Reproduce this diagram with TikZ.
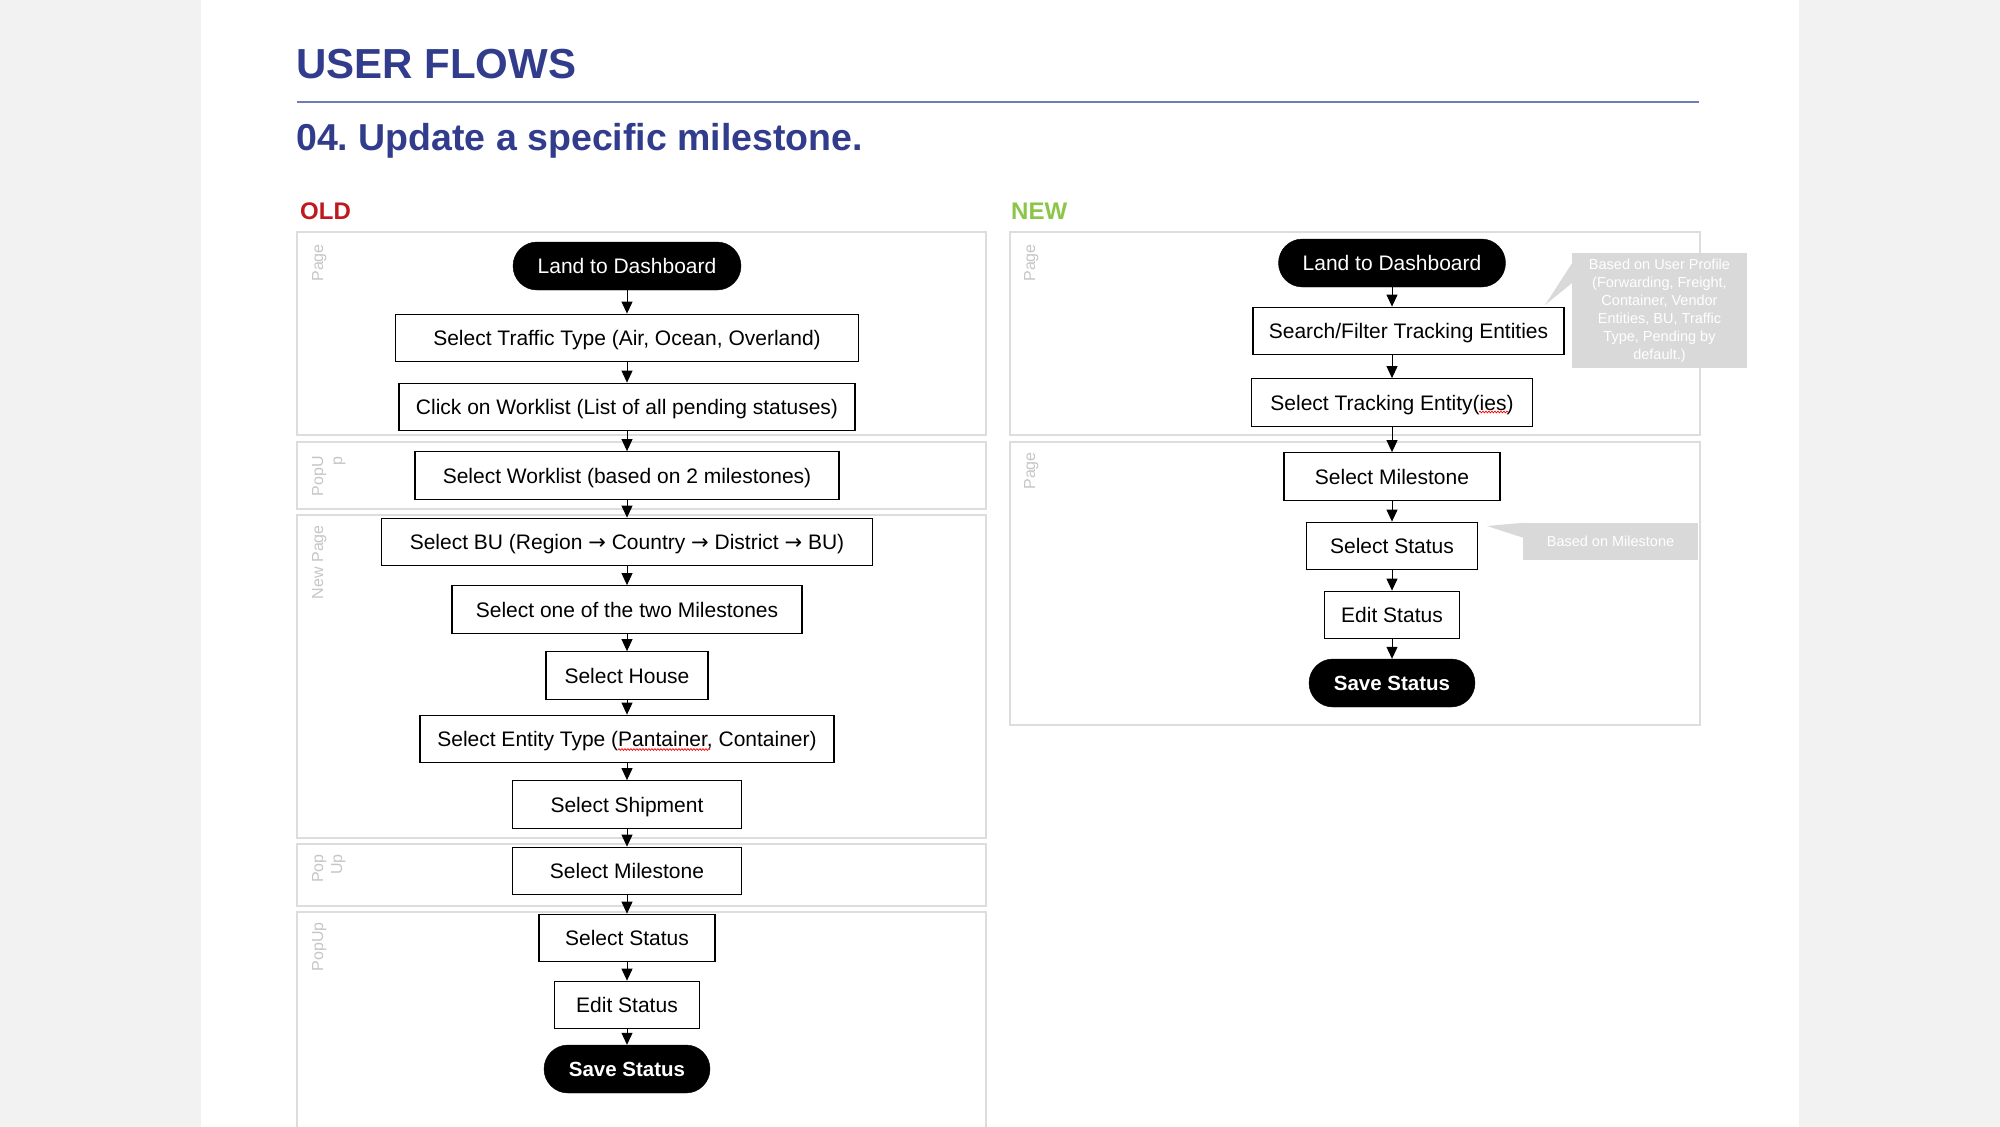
\documentclass[tikz,border=0pt]{standalone}
\usepackage{fontspec}
\setmainfont{Liberation Sans}
\newfontfamily\arrowfont{DejaVu Sans}
\usetikzlibrary{arrows.meta,decorations.pathmorphing,calc}
\definecolor{bgc}{HTML}{F2F2F2}
\definecolor{titleblue}{RGB}{50,60,140}
\definecolor{rulec}{RGB}{112,124,184}
\definecolor{oldred}{RGB}{190,25,30}
\definecolor{newgreen}{RGB}{140,198,72}
\definecolor{lanec}{HTML}{DDDDDD}
\definecolor{lblc}{HTML}{C6C6C6}
\definecolor{callc}{HTML}{D9D9D9}
\newcommand{\rarr}{{\arrowfont →}}
\frenchspacing
\begin{document}
\begin{tikzpicture}[x=1pt,y=-1pt,
  stepbox/.style={draw=black, line width=1.3pt, fill=white, minimum height=47.5pt, inner sep=0pt, text height=15pt, text depth=0pt, font=\fontsize{21}{25}\selectfont},
  pill/.style={fill=black, draw=black, rounded corners=24pt, minimum height=48pt, inner sep=0pt, text height=15pt, text depth=0pt, text=white, font=\fontsize{21}{25}\selectfont},
  pillb/.style={pill, font=\fontsize{20.5}{25}\selectfont\bfseries},
  flow/.style={line width=1pt, -{Triangle[length=12pt,width=11pt]}},
  lane/.style={draw=lanec, line width=1.5pt},
  lanelbl/.style={rotate=90, anchor=north east, inner sep=0pt, text=lblc, font=\fontsize{16}{19}\selectfont, align=right},
  callout/.style={fill=callc, inner sep=0pt, text=white, font=\fontsize{14.5}{18}\selectfont, align=center},
  squig/.style={draw=red, line width=0.7pt, decorate, decoration={snake, amplitude=0.9pt, segment length=3pt}},
  heading/.style={anchor=base west, inner sep=0pt, font=\bfseries}
]
\useasboundingbox (0,0) rectangle (2000,1127);
\fill[bgc] (0,0) rectangle (2000,1127);
\fill[white] (201,0) rectangle (1799,1127);

% headings
\node[heading, text=titleblue, font=\fontsize{42}{48}\selectfont\bfseries] (title) at (296,78) {USER FLOWS};
\draw[rulec, line width=1.5pt] (297,102) -- (1699,102);
\node[heading, text=titleblue, font=\fontsize{37.5}{44}\selectfont\bfseries] (sub) at (296,150) {04. Update a specific milestone.};
\node[heading, text=oldred, font=\fontsize{24}{28}\selectfont\bfseries] (old) at (300,219) {OLD};
\node[heading, text=newgreen, font=\fontsize{24}{28}\selectfont\bfseries] (new) at (1011,219) {NEW};

% lanes
\draw[lane] (297,232) rectangle (986,435);
\draw[lane] (297,442) rectangle (986,509);
\draw[lane] (297,515) rectangle (986,838);
\draw[lane] (297,844) rectangle (986,906);
\draw[lane] (297,1140) -- (297,912) -- (986,912) -- (986,1140);
\draw[lane] (1010,232) rectangle (1700,435);
\draw[lane] (1010,442) rectangle (1700,725);

\node[lanelbl] (l1) at (312,244) {Page};
\node[lanelbl] (l2) at (312,456) {PopU\\p};
\node[lanelbl] (l3) at (312,525) {New Page};
\node[lanelbl] (l4) at (312,854) {Pop\\Up};
\node[lanelbl] (l5) at (312,922) {PopUp};
\node[lanelbl] (r1) at (1024,244) {Page};
\node[lanelbl] (r2) at (1024,452) {Page};

% callouts
\node[callout, minimum width=175pt, minimum height=115pt] (c1) at (1659.5,310.5) {Based on User Profile\\(Forwarding, Freight,\\Container, Vendor\\Entities, BU, Traffic\\Type, Pending by\\default.)};
\coordinate (c1tip) at (1545,305);
\fill[callc] ($(c1.north west)+(0.5,10)$) -- (c1tip) -- ($(c1.north west)+(0.5,30)$) -- cycle;
\node[callout, minimum width=175pt, minimum height=37pt] (c2) at (1610.5,541.5) {Based on Milestone};
\coordinate (c2tip) at (1487,526);
\fill[callc] ($(c2.north west)+(0.5,0)$) -- (c2tip) -- ($(c2.north west)+(0.5,15)$) -- cycle;

% old flow
\node[pill, minimum width=228pt] (o1) at (627,266) {Land to Dashboard};
\node[stepbox, minimum width=463pt] (o2) at (627,338) {Select Traffic Type (Air, Ocean, Overland)};
\node[stepbox, minimum width=456pt] (o3) at (627,407) {Click on Worklist (List of all pending statuses)};
\node[stepbox, minimum width=424pt] (o4) at (627,475.5) {Select Worklist (based on 2 milestones)};
\node[stepbox, minimum width=491pt] (o5) at (627,542) {Select BU (Region \rarr{} Country \rarr{} District \rarr{} BU)};
\node[stepbox, minimum width=350pt] (o6) at (627,609.5) {Select one of the two Milestones};
\node[stepbox, minimum width=162pt] (o7) at (627,675.5) {Select House};
\node[stepbox, minimum width=414pt] (o8) at (627,739) {Select Entity Type (Pantainer, Container)};
\node[stepbox, minimum width=229pt] (o9) at (627,804.5) {Select Shipment};
\node[stepbox, minimum width=229pt] (o10) at (627,871) {Select Milestone};
\node[stepbox, minimum width=176pt] (o11) at (627,938) {Select Status};
\node[stepbox, minimum width=145pt] (o12) at (627,1005) {Edit Status};
\node[pillb, minimum width=166pt] (o13) at (627,1069) {Save Status};
\foreach \a/\b in {o1/o2,o2/o3,o3/o4,o4/o5,o5/o6,o6/o7,o7/o8,o8/o9,o9/o10,o10/o11,o11/o12,o12/o13}
  \draw[flow] (\a.south) -- (\b.north);

% new flow
\node[pill, minimum width=227pt] (n1) at (1392,263) {Land to Dashboard};
\node[stepbox, minimum width=311pt] (n2) at (1408.5,331) {Search/Filter Tracking Entities};
\node[stepbox, minimum width=281pt] (n3) at (1392,402.5) {Select Tracking Entity(ies)};
\node[stepbox, minimum width=216pt] (n4) at (1392,476.5) {Select Milestone};
\node[stepbox, minimum width=171pt] (n5) at (1392,546) {Select Status};
\node[stepbox, minimum width=135pt] (n6) at (1392,615) {Edit Status};
\node[pillb, minimum width=166pt] (n7) at (1392,683) {Save Status};
\draw[flow] (n1.south) -- (n1.south |- n2.north);
\draw[flow] (n3.north |- n2.south) -- (n3.north);
\foreach \a/\b in {n3/n4,n4/n5,n5/n6,n6/n7}
  \draw[flow] (\a.south) -- (\b.north);

% spell-check marks
\draw[squig] ($(o8.center)+(-9,10.5)$) -- ($(o8.center)+(83,10.5)$);
\draw[squig] ($(n3.center)+(87,9.5)$) -- ($(n3.center)+(116,9.5)$);
\end{tikzpicture}
\end{document}
